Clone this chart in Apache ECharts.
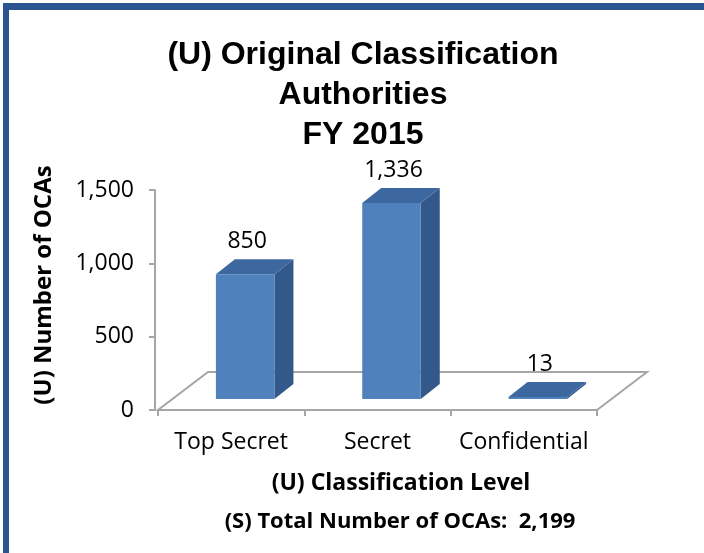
<!DOCTYPE html>
<html>
<head>
<meta charset="utf-8">
<style>
  html, body { margin: 0; padding: 0; background: #fff; }
  #chart { width: 704px; height: 553px; }
</style>
<script src="https://cdn.jsdelivr.net/npm/echarts@6/dist/echarts.min.js"></script>
</head>
<body>
<div id="chart"></div>
<script>
'use strict';

// Données
const categories = ['Top Secret', 'Secret', 'Confidential'];
const ocaCounts = [850, 1336, 13];
const axisMax = 1500;
const axisStep = 500;
const titleLines = ['(U) Original Classification', 'Authorities', 'FY 2015'];
const xAxisTitle = '(U) Classification Level';
const yAxisTitle = '(U) Number of OCAs';
const totalLine = '(S) Total Number of OCAs:  2,199';

const BODY_FONT = '"Open Sans", "DejaVu Sans", sans-serif';
const FRONT = '#4f81bd';
const TOP = '#3d689f';
const SIDE = '#33598a';
const FLOOR_LINE = '#a6a6a6';

// décalages de profondeur (pseudo 3D)
const FLOOR_DEPTH = [50, -38];
const BAR_FRONT = [14, -11];
const BAR_DEPTH = [19, -15];

function renderFloor(params, api) {
  const cs = params.coordSys;
  const x0 = cs.x, x1 = cs.x + cs.width, y0 = cs.y + cs.height;
  const [dx, dy] = FLOOR_DEPTH;
  return {
    type: 'polygon',
    shape: { points: [[x0, y0], [x1, y0], [x1 + dx, y0 + dy], [x0 + dx, y0 + dy]] },
    style: { fill: '#fff', stroke: FLOOR_LINE, lineWidth: 2 },
  };
}

function renderBar(params, api) {
  const idx = api.value(0);
  const val = api.value(1);
  const band = api.size([1, 0])[0];
  const base = api.coord([idx, 0]);
  const top = api.coord([idx, val]);
  const half = band * 0.2;
  const cx = base[0] + BAR_FRONT[0];
  const yb = base[1] + BAR_FRONT[1];
  const yt = Math.min(top[1] + BAR_FRONT[1], yb - 1.5);
  const l = cx - half, r = cx + half;
  const [dx, dy] = BAR_DEPTH;
  return {
    type: 'group',
    children: [
      {
        type: 'polygon',
        shape: { points: [[r, yb], [r + dx, yb + dy], [r + dx, yt + dy], [r, yt]] },
        style: { fill: SIDE },
      },
      {
        type: 'polygon',
        shape: { points: [[l, yt], [r, yt], [r + dx, yt + dy], [l + dx, yt + dy]] },
        style: { fill: TOP },
      },
      {
        type: 'rect',
        shape: { x: l, y: yt, width: r - l, height: yb - yt },
        style: { fill: FRONT },
      },
      {
        type: 'text',
        style: {
          text: val.toLocaleString('en-US'),
          x: cx + 2,
          y: yt + dy - 18,
          align: 'center',
          verticalAlign: 'middle',
          font: '23px ' + BODY_FONT,
          fill: '#000',
        },
      },
    ],
  };
}

const chart = echarts.init(document.getElementById('chart'), null, { renderer: 'canvas' });

const boldBody = { fontFamily: BODY_FONT, fontWeight: 'bold', color: '#000' };

chart.setOption({
  backgroundColor: '#fff',
  animation: false,
  title: [
    {
      text: titleLines.join('\n'),
      left: 358,
      top: 30,
      textAlign: 'center',
      textStyle: {
        fontFamily: '"Liberation Sans", Arial, sans-serif',
        fontWeight: 'bold',
        fontSize: 32,
        lineHeight: 40,
        color: '#000',
      },
    },
    {
      text: xAxisTitle,
      left: 396,
      top: 467,
      textAlign: 'center',
      textStyle: { ...boldBody, fontSize: 23 },
    },
    {
      text: totalLine,
      left: 395,
      top: 506,
      textAlign: 'center',
      textStyle: { ...boldBody, fontSize: 22 },
    },
  ],
  graphic: [
    { type: 'rect', shape: { x: 3, y: 3, width: 701, height: 7 }, style: { fill: '#2b5590' } },
    { type: 'rect', shape: { x: 3, y: 3, width: 6, height: 550 }, style: { fill: '#2b5590' } },
  ],
  grid: { left: 158, right: 107, top: 190, bottom: 143 },
  xAxis: {
    type: 'category',
    data: categories,
    axisLine: { lineStyle: { color: FLOOR_LINE, width: 2 } },
    axisTick: { show: true, length: 6, lineStyle: { color: FLOOR_LINE, width: 2 } },
    axisLabel: {
      interval: 0,
      hideOverlap: false,
      margin: 21,
      fontFamily: BODY_FONT,
      fontSize: 23,
      color: '#000',
    },
  },
  yAxis: {
    type: 'value',
    min: 0,
    max: axisMax,
    interval: axisStep,
    offset: 3,
    name: yAxisTitle,
    nameLocation: 'middle',
    nameRotate: 90,
    nameGap: 99,
    nameTextStyle: { ...boldBody, fontSize: 24, padding: [0, 0, 0, 30] },
    axisLine: { show: true, lineStyle: { color: FLOOR_LINE, width: 2 } },
    axisTick: { show: true, length: 6, lineStyle: { color: FLOOR_LINE, width: 2 } },
    axisLabel: {
      margin: 21,
      fontFamily: BODY_FONT,
      fontSize: 23,
      color: '#000',
      formatter: (v) => v.toLocaleString('en-US'),
    },
    splitLine: { show: false },
  },
  series: [
    {
      type: 'custom',
      name: 'floor',
      z: 1,
      silent: true,
      data: [[0, 0]],
      renderItem: renderFloor,
    },
    {
      type: 'custom',
      name: 'OCAs',
      z: 3,
      data: ocaCounts.map((v, i) => [i, v]),
      encode: { x: 0, y: 1 },
      renderItem: renderBar,
    },
  ],
});
</script>
</body>
</html>
